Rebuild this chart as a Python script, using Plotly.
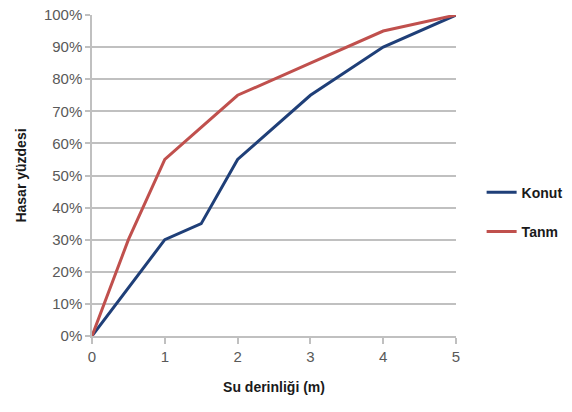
import plotly.graph_objects as go

depth_konut = [0, 0.5, 1, 1.5, 2, 3, 4, 5]
konut = [0, 0.15, 0.30, 0.35, 0.55, 0.75, 0.90, 1.00]
depth_tanm = [0, 0.5, 1, 2, 3, 4, 5]
tanm = [0, 0.30, 0.55, 0.75, 0.85, 0.95, 1.00]

x_ticks = [0, 1, 2, 3, 4, 5]
y_ticks = [0, 0.1, 0.2, 0.3, 0.4, 0.5, 0.6, 0.7, 0.8, 0.9, 1.0]

grid = "#c0c0c0"
tickfont = dict(family="Liberation Sans", size=15, color="#595959")

fig = go.Figure()
fig.add_trace(go.Scatter(x=depth_konut, y=konut, mode="lines", name="<b>Konut</b>",
                         legendgroup="a", line=dict(color="#1f3f78", width=3)))
fig.add_trace(go.Scatter(x=depth_tanm, y=tanm, mode="lines", name="<b>Tanm</b>",
                         legendgroup="b", line=dict(color="#c0504d", width=3)))

fig.update_layout(
    width=572, height=412,
    margin=dict(l=92, r=116, t=15, b=76, autoexpand=False),
    paper_bgcolor="white", plot_bgcolor="white",
    showlegend=True,
    legend=dict(xref="container", yref="container", x=0.842, y=0.485,
                xanchor="left", yanchor="middle",
                font=dict(family="Liberation Sans", size=14, color="#1a1a1a"),
                tracegroupgap=18, itemwidth=30),
)
fig.update_xaxes(range=[0, 5], tickvals=x_ticks, ticktext=[str(v) for v in x_ticks],
                 showgrid=False, zeroline=False, showline=True, linecolor=grid, linewidth=1.5,
                 ticks="outside", ticklen=6, tickcolor=grid, tickwidth=1.5, tickfont=tickfont,
                 title=dict(text="<b>Su derinliği (m)</b>",
                            font=dict(family="Liberation Sans", size=14, color="#1a1a1a"), standoff=18))
fig.update_yaxes(range=[0, 1.0], tickvals=y_ticks, tickformat=".0%",
                 showgrid=True, gridcolor=grid, gridwidth=1.5, zeroline=False,
                 showline=True, linecolor=grid, linewidth=1.5,
                 ticks="outside", ticklen=5, tickcolor=grid, tickwidth=1.5, tickfont=tickfont,
                 title=dict(text="<b>Hasar yüzdesi</b>",
                            font=dict(family="Liberation Sans", size=14, color="#1a1a1a"), standoff=14))

fig.write_html("out.html")
